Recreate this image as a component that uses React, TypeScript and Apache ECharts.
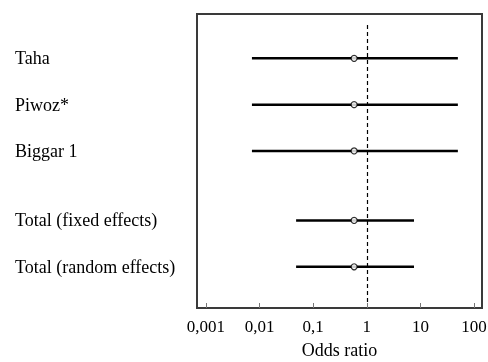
import React, { useEffect, useRef } from "react";
import * as echarts from "echarts";

const studies = ["Taha", "Piwoz*", "Biggar 1", "Total (fixed effects)", "Total (random effects)"];
const rowPos = [0, 1, 2, 3.5, 4.5];
const oddsRatio = [0.58, 0.58, 0.58, 0.58, 0.58];
const lower = [0.0072, 0.0072, 0.0072, 0.048, 0.048];
const upper = [50, 50, 50, 7.6, 7.6];
const xTicks = [0.001, 0.01, 0.1, 1, 10, 100];

const FONT = "Liberation Serif";

export default function App() {
  const ref = useRef<HTMLDivElement>(null);
  useEffect(() => {
    if (!ref.current) return;
    const chart = echarts.init(ref.current, null, { renderer: "svg" });
    const ciData = studies.map((_, i) => [lower[i], upper[i], rowPos[i]]);
    const ptData = studies.map((_, i) => [oddsRatio[i], rowPos[i]]);
    chart.setOption({
      animation: false,
      grid: {
        left: 197,
        top: 14,
        right: 6,
        bottom: 54,
        outerBoundsMode: "none",
        containLabel: false,
        show: true,
        borderColor: "#3a3a3a",
        borderWidth: 2,
        backgroundColor: "transparent",
      },
      xAxis: {
        type: "log",
        logBase: 10,
        position: "bottom",
        min: 0.00068,
        max: 141,
        axisLine: { show: false, onZero: false },
        splitLine: { show: false },
        axisTick: {
          show: true,
          inside: true,
          length: 5,
          lineStyle: { color: "#777", width: 1 },
          customValues: xTicks,
        },
        axisLabel: {
          customValues: xTicks,
          color: "#000",
          fontFamily: FONT,
          fontSize: 17,
          margin: 10,
          formatter: (v: number) => {
            const s = v >= 1 ? String(Math.round(v)) : String(Number(v.toPrecision(1)));
            return s.replace(".", ",");
          },
        },
        name: "Odds ratio",
        nameLocation: "middle",
        nameGap: 33,
        nameTextStyle: { color: "#000", fontFamily: FONT, fontSize: 18 },
      },
      yAxis: {
        type: "value",
        inverse: true,
        min: -0.957,
        max: 5.39,
        axisLine: { show: false },
        splitLine: { show: false },
        axisTick: { show: false },
        axisLabel: {
          customValues: rowPos,
          color: "#000",
          fontFamily: FONT,
          fontSize: 18,
          align: "left",
          margin: 182,
          formatter: (v: number) => {
            const idx = rowPos.findIndex((p) => Math.abs(p - v) < 1e-6);
            return idx >= 0 ? studies[idx] : "";
          },
        },
      },
      series: [
        {
          type: "custom",
          data: ciData,
          encode: { x: [0, 1], y: 2 },
          renderItem: (params: any, api: any) => {
            const y = api.value(2);
            const p1 = api.coord([api.value(0), y]);
            const p2 = api.coord([api.value(1), y]);
            return {
              type: "line",
              shape: { x1: p1[0], y1: p1[1], x2: p2[0], y2: p2[1] },
              style: { stroke: "#000", lineWidth: 2.5 },
            };
          },
          z: 2,
        },
        {
          type: "scatter",
          data: ptData,
          symbol: "circle",
          symbolSize: 6,
          itemStyle: { color: "#fff", borderColor: "#000", borderWidth: 1.2 },
          z: 4,
          markLine: {
            silent: true,
            symbol: "none",
            label: { show: false },
            lineStyle: { color: "#000", type: [4, 3], width: 1.2 },
            data: [[{ coord: [1, -0.72] }, { coord: [1, 5.3] }]],
          },
        },
      ],
    });
    return () => chart.dispose();
  }, []);
  return (
    <div
      ref={ref}
      style={{ position: "fixed", left: 0, top: 0, width: 488, height: 362 }}
    />
  );
}
